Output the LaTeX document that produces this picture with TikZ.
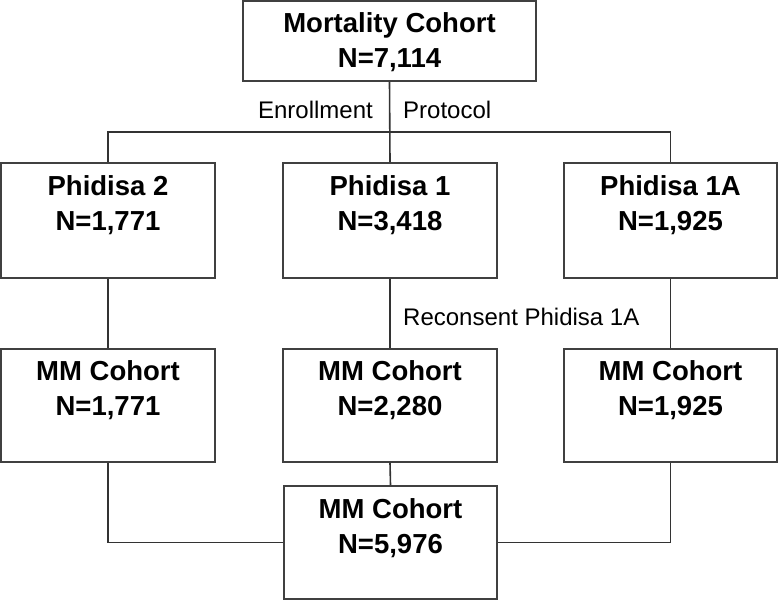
\documentclass[tikz,border=0pt]{standalone}
\usepackage{fontspec}
\setmainfont{Liberation Sans}
\usepackage{tikz}

\tikzset{
  cohort/.style={draw=black!75, line width=1.6pt, inner sep=0pt, align=center,
    font=\fontsize{27.5}{35}\selectfont\bfseries, text height=67pt},
  link/.style={draw=black!80, line width=1.6pt},
  note/.style={inner sep=0pt, font=\fontsize{24}{28}\selectfont}
}

\begin{document}
\begin{tikzpicture}[x=1pt,y=-1pt]
		\useasboundingbox (0,0) rectangle (778,601);
		\node[cohort, minimum width=293pt, minimum height=80pt, text depth=13pt] (mort) at (389.5,41) {Mortality Cohort\\N=7,114};
		\node[cohort, minimum width=214pt, minimum height=115pt, text height=68pt, text depth=47pt] (ph2) at (108,220.5) {Phidisa 2\\N=1,771};
		\node[cohort, minimum width=214pt, minimum height=115pt, text height=68pt, text depth=47pt] (ph1) at (390,220.5) {Phidisa 1\\N=3,418};
		\node[cohort, minimum width=213pt, minimum height=115pt, text height=68pt, text depth=47pt] (ph1a) at (670.5,220.5) {Phidisa 1A\\N=1,925};
		\node[cohort, minimum width=214pt, minimum height=113pt, text height=66pt, text depth=47pt] (mm2) at (108,405.5) {MM Cohort\\N=1,771};
		\node[cohort, minimum width=214pt, minimum height=113pt, text height=66pt, text depth=47pt] (mm1) at (390,405.5) {MM Cohort\\N=2,280};
		\node[cohort, minimum width=213pt, minimum height=113pt, text height=66pt, text depth=47pt] (mm1a) at (670.5,405.5) {MM Cohort\\N=1,925};
		\node[cohort, minimum width=213pt, minimum height=113pt, text height=67pt, text depth=46pt] (mmall) at (390.5,542.5) {MM Cohort\\N=5,976};
		\coordinate (split) at (390,132);
		% enrollment protocol
		\draw[link] (mort.south) -- (ph1.north);
		\draw[link] (ph2.north) |- (split) -| (ph1a.north);
		\node[note, anchor=base east] (enrol) at (373,119) {Enrollment};
		\node[note, anchor=base west] (proto) at (403,119) {Protocol};
		% consent
		\draw[link] (ph2.south) -- (mm2.north);
		\draw[link] (ph1.south) -- (mm1.north);
		\draw[link] (ph1a.south) -- (mm1a.north);
		\node[note, anchor=base west] (recon) at (403,325) {Reconsent Phidisa 1A};
		% combined
		\draw[link] (mm1.south) -- (mmall.north);
		\draw[link] (mm2.south) |- (mmall.west);
		\draw[link] (mm1a.south) |- (mmall.east);
		\end{tikzpicture}
\end{document}
